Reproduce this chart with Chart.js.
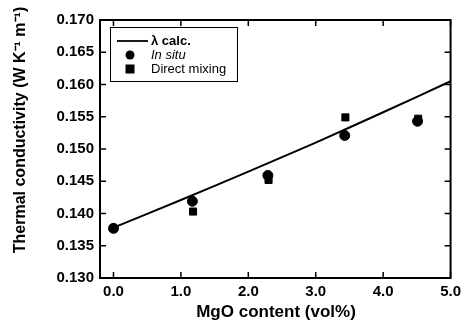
<!DOCTYPE html>
<html>
<head>
<meta charset="utf-8">
<script src="https://cdn.jsdelivr.net/npm/chart.js@4/dist/chart.umd.min.js"></script>
<style>
html,body{margin:0;padding:0;background:#fff;}
#wrap{position:relative;width:466px;height:324px;}
</style>
</head>
<body>
<div id="wrap"><canvas id="c" width="466" height="324"></canvas></div>
<script>
// ---- data ----
const xTicks = [0, 1, 2, 3, 4, 5];
const yTicks = [0.130, 0.135, 0.140, 0.145, 0.150, 0.155, 0.160, 0.165, 0.170];
const calcX = [0, 1, 2, 3, 4, 5];
const calcY = [0.1378, 0.1421, 0.1465, 0.1510, 0.1557, 0.1605];
const inSituX = [0, 1.17, 2.29, 3.43, 4.51];
const inSituY = [0.1377, 0.1419, 0.1459, 0.1521, 0.1543];
const directX = [0, 1.18, 2.30, 3.44, 4.52];
const directY = [0.1377, 0.1403, 0.1452, 0.1549, 0.1547];
const seriesLabels = ['\u03bb calc.', 'In situ', 'Direct mixing'];
const xTitle = 'MgO content (vol%)';
const yTitle = 'Thermal conductivity (W K\u207b\u00b9 m\u207b\u00b9)';

const toPts = (xs, ys) => xs.map((x, i) => ({x: x, y: ys[i]}));
const FONT = '"Liberation Sans", Arial, sans-serif';

const framePlugin = {
  id: 'frame',
  afterDatasetsDraw(chart) {
    const ctx = chart.ctx, a = chart.chartArea;
    const xs = chart.scales.x, ys = chart.scales.y;
    ctx.save();
    ctx.strokeStyle = '#000';
    ctx.lineWidth = 2;
    ctx.strokeRect(a.left, a.top, a.right - a.left, a.bottom - a.top);
    ctx.lineWidth = 1.5;
    const tl = 6;
    ctx.beginPath();
    xs.ticks.forEach(t => {
      const px = xs.getPixelForValue(t.value);
      ctx.moveTo(px, a.bottom); ctx.lineTo(px, a.bottom - tl);
      ctx.moveTo(px, a.top); ctx.lineTo(px, a.top + tl);
    });
    ys.ticks.forEach(t => {
      const py = ys.getPixelForValue(t.value);
      ctx.moveTo(a.left, py); ctx.lineTo(a.left + tl, py);
      ctx.moveTo(a.right, py); ctx.lineTo(a.right - tl, py);
    });
    ctx.stroke();

    // axis titles
    ctx.fillStyle = '#000';
    ctx.font = 'bold 17px ' + FONT;
    ctx.textAlign = 'center';
    ctx.textBaseline = 'middle';
    ctx.fillText(xTitle, 276, 312);
    ctx.save();
    ctx.translate(21, 130);
    ctx.rotate(-Math.PI / 2);
    ctx.font = 'bold 16px ' + FONT;
    ctx.fillText(yTitle, 0, 0);
    ctx.restore();

    // legend
    const lx = 110, ly = 27, lw = 127, lh = 54;
    ctx.fillStyle = '#fff';
    ctx.fillRect(lx, ly, lw, lh);
    ctx.lineWidth = 1;
    ctx.strokeStyle = '#000';
    ctx.strokeRect(lx + 0.5, ly + 0.5, lw, lh);
    ctx.lineWidth = 1.8;
    ctx.beginPath();
    ctx.moveTo(117, 41); ctx.lineTo(148, 41);
    ctx.stroke();
    ctx.fillStyle = '#000';
    ctx.beginPath();
    ctx.arc(130, 55, 4.5, 0, Math.PI * 2);
    ctx.fill();
    ctx.fillRect(125.5, 64.5, 9, 9);
    ctx.textAlign = 'left';
    ctx.textBaseline = 'middle';
    ctx.font = 'bold 13px ' + FONT;
    ctx.fillText(seriesLabels[0], 151, 41);
    ctx.font = 'italic 13px ' + FONT;
    ctx.fillText(seriesLabels[1], 151, 55.5);
    ctx.font = '13px ' + FONT;
    ctx.fillText(seriesLabels[2], 151, 69.5);
    ctx.restore();
  }
};

new Chart(document.getElementById('c'), {
  type: 'scatter',
  data: {
    datasets: [
      {
        type: 'line',
        label: seriesLabels[0],
        data: toPts(calcX, calcY),
        borderColor: '#000',
        borderWidth: 2,
        pointRadius: 0,
        fill: false,
        tension: 0.3,
        order: 3
      },
      {
        label: seriesLabels[1],
        data: toPts(inSituX, inSituY),
        backgroundColor: '#000',
        borderColor: '#000',
        pointStyle: 'circle',
        pointRadius: 5,
        order: 2
      },
      {
        label: seriesLabels[2],
        data: toPts(directX, directY),
        backgroundColor: '#000',
        borderColor: '#000',
        pointStyle: 'rect',
        pointRadius: 5,
        order: 1
      }
    ]
  },
  options: {
    responsive: false,
    animation: false,
    devicePixelRatio: 1,
    layout: {padding: {top: 20, right: 12, left: 0, bottom: 0}},
    plugins: {legend: {display: false}, tooltip: {enabled: false}},
    scales: {
      x: {
        type: 'linear',
        min: -0.2,
        max: 5.0,
        border: {display: false},
        grid: {display: false, drawTicks: false},
        afterBuildTicks: s => { s.ticks = xTicks.map(v => ({value: v})); },
        afterFit: s => { s.height = 46; },
        ticks: {
          padding: 5,
          color: '#000',
          font: {family: FONT, size: 15, weight: 'bold'},
          callback: v => Number(v).toFixed(1),
          maxRotation: 0,
          autoSkip: false
        }
      },
      y: {
        type: 'linear',
        min: 0.130,
        max: 0.170,
        border: {display: false},
        grid: {display: false, drawTicks: false},
        afterBuildTicks: s => { s.ticks = yTicks.map(v => ({value: v})); },
        afterFit: s => { s.width = 100; },
        ticks: {
          padding: 6,
          color: '#000',
          font: {family: FONT, size: 15, weight: 'bold'},
          callback: v => Number(v).toFixed(3),
          autoSkip: false
        }
      }
    }
  },
  plugins: [framePlugin]
});
</script>
</body>
</html>
